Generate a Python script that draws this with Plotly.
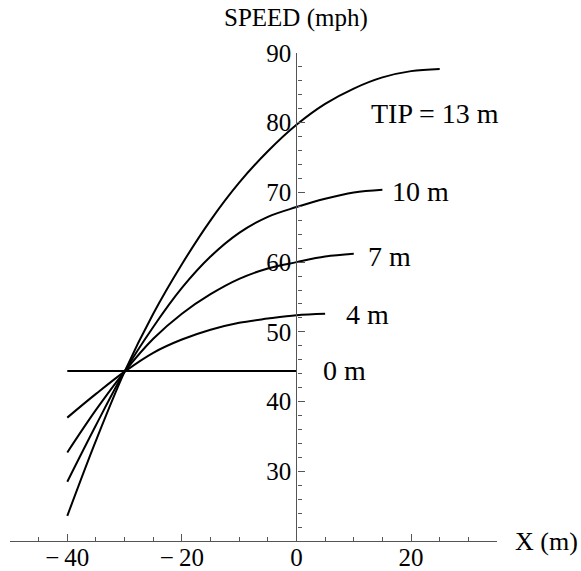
import plotly.graph_objects as go

# Data
x_tip13 = [-40, -35, -30, -25, -20, -15, -10, -5, 0, 5, 10, 15, 20, 25]
y_tip13 = [23.6, 34.4, 44.3, 52.6, 59.7, 66.0, 71.4, 75.9, 79.7, 82.7, 84.9, 86.5, 87.4, 87.7]

x_tip10 = [-40, -35, -30, -25, -20, -15, -10, -5, 0, 5, 10, 15]
y_tip10 = [28.5, 36.6, 44.3, 50.7, 56.3, 60.8, 64.2, 66.5, 67.9, 69.1, 70.0, 70.4]

x_tip7 = [-40, -35, -30, -25, -20, -15, -10, -5, 0, 5, 10]
y_tip7 = [32.7, 38.8, 44.3, 49.0, 52.6, 55.4, 57.6, 59.1, 60.0, 60.8, 61.2]

x_tip4 = [-40, -35, -30, -25, -20, -15, -10, -5, 0, 5]
y_tip4 = [37.7, 41.1, 44.3, 47.0, 48.9, 50.3, 51.3, 51.9, 52.4, 52.6]

x_tip0 = [-40, 0]
y_tip0 = [44.4, 44.4]

curve_labels = ["TIP = 13 m", "10 m", "7 m", "4 m", "0 m"]
label_x = [12.6, 16.3, 12.2, 8.3, 4.2]
label_y = [81.3, 70.2, 60.8, 52.5, 44.4]

x_tickvals = [-40, -20, 0, 20]
x_ticktext = ["\u2212\u2009" + "40", "\u2212\u2009" + "20", "0", "20"]
y_tickvals = [30, 40, 50, 60, 70, 80, 90]

FONT = "Liberation Serif"
FS_TICK = 25
FS_LABEL = 28
AX = "#555555"

fig = go.Figure()
for xs, ys in [(x_tip13, y_tip13), (x_tip10, y_tip10), (x_tip7, y_tip7),
               (x_tip4, y_tip4), (x_tip0, y_tip0)]:
    fig.add_trace(go.Scatter(x=xs, y=ys, mode="lines",
                             line=dict(color="black", width=2, shape="spline", smoothing=1.0),
                             showlegend=False, hoverinfo="skip"))

for t, lx, ly in zip(curve_labels, label_x, label_y):
    fig.add_annotation(x=lx, y=ly, xref="x", yref="y", text=t, showarrow=False,
                       xanchor="left", yanchor="middle",
                       font=dict(family=FONT, size=FS_LABEL, color="black"))

fig.add_annotation(x=0, y=1, xref="x", yref="paper", text="SPEED (mph)", showarrow=False,
                   xanchor="center", yanchor="middle", yshift=35,
                   font=dict(family=FONT, size=FS_TICK, color="black"))
fig.add_annotation(x=1.033, y=20, xref="paper", yref="y", text="X (m)", showarrow=False,
                   xanchor="left", yanchor="middle",
                   font=dict(family=FONT, size=26, color="black"))

fig.update_layout(
    width=581, height=571,
    margin=dict(l=10, r=84, t=53, b=30, autoexpand=False),
    paper_bgcolor="white", plot_bgcolor="white",
    font=dict(family=FONT, size=FS_TICK, color="black"),
    xaxis=dict(range=[-50, 35], showgrid=False, zeroline=False, automargin=False,
               showline=True, linecolor=AX, linewidth=1.2,
               tickmode="array", tickvals=x_tickvals, ticktext=x_ticktext,
               ticks="inside", ticklen=7, tickcolor=AX, tickwidth=1,
               ticklabelstandoff=-6,
               minor=dict(dtick=5, tick0=0, ticks="inside", ticklen=4, tickcolor=AX, tickwidth=1),
               tickfont=dict(family=FONT, size=FS_TICK, color="black"),
               anchor="y"),
    yaxis=dict(range=[20, 90], showgrid=False, zeroline=False, automargin=False,
               showline=True, linecolor=AX, linewidth=1.2,
               tickmode="array", tickvals=y_tickvals,
               ticks="inside", ticklen=7, tickcolor=AX, tickwidth=1,
               minor=dict(dtick=2, tick0=0, ticks="inside", ticklen=4, tickcolor=AX, tickwidth=1),
               tickfont=dict(family=FONT, size=FS_TICK, color="black"),
               anchor="free", position=50/85, side="left"),
)

fig.write_html("out.html", config={"displayModeBar": False},
               post_script="document.body.style.margin='0';document.body.style.overflow='hidden';")
